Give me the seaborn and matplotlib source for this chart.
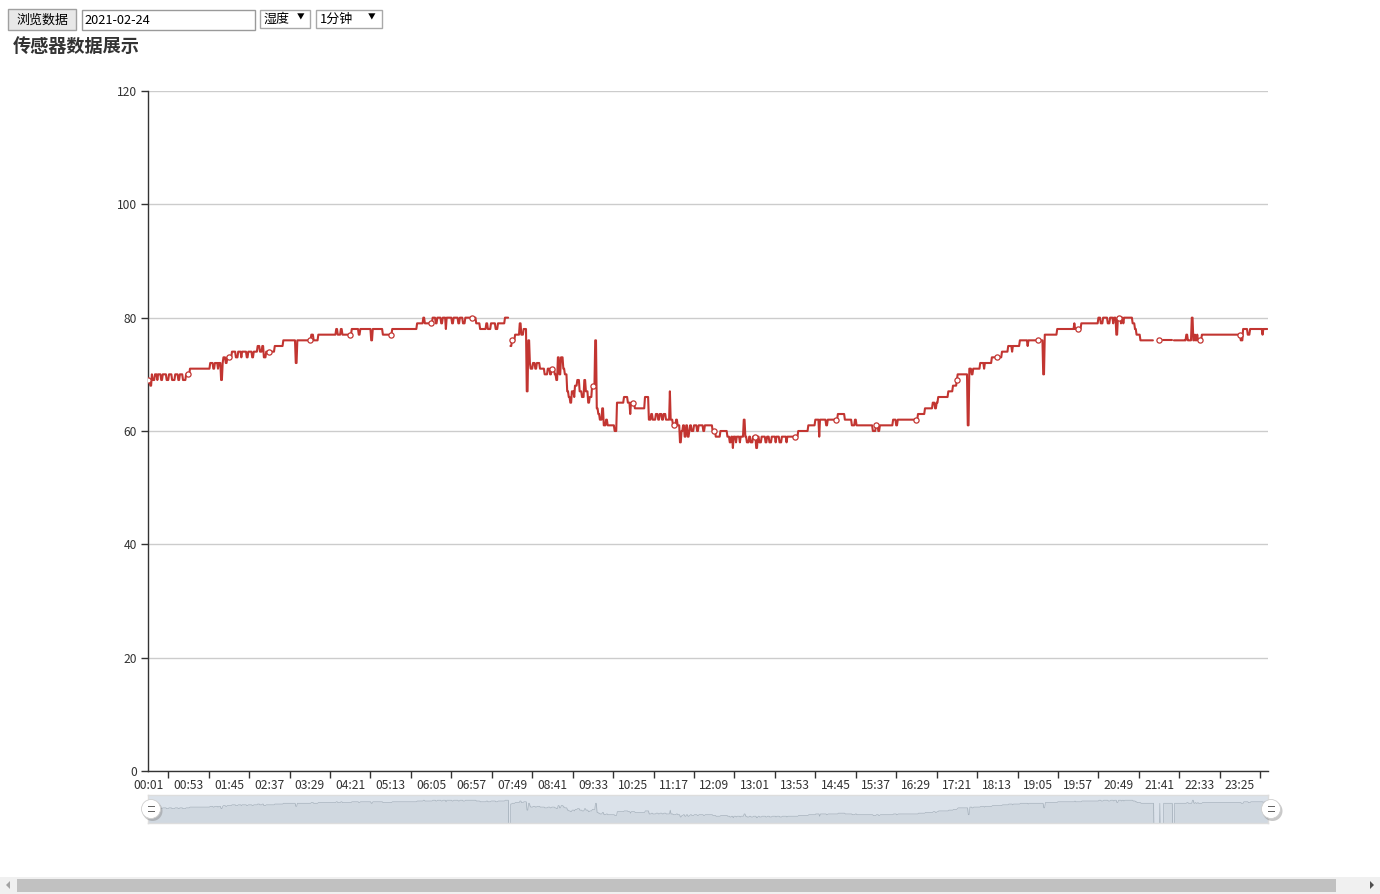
import numpy as np
import pandas as pd
import matplotlib
matplotlib.use("Agg")
import matplotlib.pyplot as plt
from matplotlib.patches import Rectangle, Circle, Polygon
from matplotlib.transforms import IdentityTransform
import seaborn as sns

# humidity readings (1 reading per minute), stored as change points:
# minute of day -> value held until the next change point, nan = no data
change_minute = [
    1, 4, 6, 7, 10, 13, 14, 18, 20, 25, 28, 32, 36, 40, 42, 46, 50, 55, 81, 85,
    87, 91, 92, 95, 97, 98, 101, 103, 109, 114, 117, 121, 122, 128, 130, 135, 137, 142, 145, 148,
    150, 153, 164, 175, 191, 193, 211, 214, 220, 243, 245, 249, 251, 263, 272, 274, 288, 290, 303, 315,
    347, 355, 357, 367, 371, 373, 378, 380, 384, 385, 392, 394, 400, 402, 406, 409, 423, 428, 436, 438,
    442, 448, 451, 460, 465, 467, 469, 473, 479, 481, 484, 488, 490, 492, 493, 496, 499, 501, 505, 511,
    515, 518, 520, 524, 526, 528, 530, 532, 535, 537, 540, 542, 544, 546, 549, 550, 553, 556, 559, 562,
    564, 567, 569, 572, 576, 578, 580, 582, 585, 587, 590, 592, 601, 604, 613, 618, 621, 622, 627, 640,
    645, 648, 650, 654, 657, 659, 662, 664, 667, 672, 673, 676, 680, 682, 685, 687, 689, 691, 693, 695,
    697, 698, 700, 703, 707, 709, 715, 717, 727, 731, 737, 746, 749, 751, 753, 754, 757, 758, 762, 763,
    767, 769, 771, 774, 776, 779, 783, 785, 787, 790, 795, 797, 800, 803, 808, 809, 813, 816, 822, 823,
    837, 850, 859, 864, 865, 873, 875, 888, 897, 906, 910, 912, 933, 937, 940, 942, 959, 963, 965, 991,
    1000, 1010, 1013, 1015, 1017, 1030, 1036, 1041, 1042, 1055, 1057, 1060, 1062, 1071, 1076, 1077, 1086, 1099, 1107, 1112,
    1113, 1122, 1132, 1133, 1152, 1154, 1170, 1192, 1193, 1201, 1223, 1226, 1229, 1235, 1238, 1242, 1243, 1246, 1248, 1252,
    1253, 1255, 1256, 1267, 1270, 1272, 1277, 1294, 1301, 1302, 1306, 1318, 1320, 1336, 1338, 1343, 1345, 1347, 1348, 1350,
    1351, 1356, 1406, 1409, 1415, 1418, 1434, 1435,
]
nan = np.nan
change_value = [
    69, 68, 70, 69, 70, 69, 70, 69, 70, 69, 70, 69, 70, 69, 70, 69, 70, 71, 72, 71,
    72, 71, 72, 69, 72, 73, 72, 73, 74, 73, 74, 73, 74, 73, 74, 73, 74, 75, 74, 75,
    73, 74, 75, 76, 72, 76, 77, 76, 77, 78, 77, 78, 77, 78, 77, 78, 76, 78, 77, 78,
    79, 80, 79, 80, 79, 80, 79, 80, 78, 80, 79, 80, 79, 80, 79, 80, 79, 78, 79, 78,
    79, 78, 79, 80, nan, 75, 76, 77, 79, 77, 78, 67, 76, 72, 71, 72, 71, 72, 71, 70,
    71, 70, 71, 70, 69, 73, 70, 73, 71, 70, 67, 66, 65, 67, 66, 68, 69, 67, 66, 69,
    67, 65, 66, 68, 76, 64, 63, 62, 64, 61, 62, 61, 60, 65, 66, 65, 63, 65, 64, 66,
    62, 63, 62, 63, 62, 63, 62, 63, 62, 67, 62, 61, 62, 61, 58, 60, 61, 59, 61, 59,
    60, 61, 60, 61, 60, 61, 60, 61, 60, 59, 60, 59, 58, 59, 57, 59, 58, 59, 58, 59,
    62, 59, 58, 59, 58, 59, 57, 59, 58, 59, 58, 59, 58, 59, 58, 59, 58, 59, 58, 59,
    60, 61, 62, 59, 62, 61, 62, 63, 62, 61, 62, 61, 60, 61, 60, 61, 62, 61, 62, 63,
    64, 65, 64, 65, 66, 67, 68, 69, 70, 61, 71, 70, 71, 72, 71, 72, 73, 74, 75, 74,
    75, 76, 75, 76, 70, 77, 78, 79, 78, 79, 80, 79, 80, 79, 80, 79, 80, 77, 80, 79,
    80, 79, 80, 79, 78, 77, 76, nan, 76, nan, 76, nan, 76, 77, 76, 80, 76, 77, 76, 77,
    76, 77, 76, 78, 77, 78, 77, 78,
]
total_minutes = 1440
label_step = 52

sns.set_style("white")
plt.rcParams["font.family"] = ["Noto Sans CJK SC", "DejaVu Sans"]

W, H = 1380, 894
fig = plt.figure(figsize=(W / 100, H / 100), dpi=100)
fig.patch.set_facecolor("white")
PX = IdentityTransform()


def box(x0, y0, x1, y1, **kw):
    fig.add_artist(Rectangle((x0, H - y1), x1 - x0, y1 - y0, transform=PX, **kw))


def label(x, y, s, size, **kw):
    fig.text(x / W, 1 - y / H, s, fontsize=size, va="center", **kw)


# per-minute series
steps = pd.Series(change_value, index=change_minute, dtype=float)
minutes = np.arange(1, total_minutes + 1)
humid = steps.reindex(minutes, method="ffill")
df = pd.DataFrame({"idx": minutes - 1, "value": humid.values})
df["seg"] = df["value"].isna().cumsum()
times = ["%02d:%02d" % (m // 60, m % 60) for m in minutes]

# main chart
ax = fig.add_axes([148 / W, 1 - 771 / H, 1120 / W, 680 / H])
sns.lineplot(data=df.dropna(), x="idx", y="value", units="seg", estimator=None,
             color="#c23531", lw=1.5, ax=ax, legend=False)
marks = df.iloc[::label_step].dropna()
sns.scatterplot(data=marks, x="idx", y="value", marker="o", s=14, color="white",
                edgecolor="#c23531", linewidth=0.9, zorder=4, ax=ax, legend=False)

ax.set_xlim(0, total_minutes)
ax.set_ylim(0, 120)
ax.set_yticks(range(0, 121, 20))
ax.yaxis.grid(True, color="#cccccc", lw=1)
ax.xaxis.grid(False)
ax.set_axisbelow(True)
lab_idx = list(range(0, total_minutes, label_step))
ax.set_xticks(lab_idx)
ax.set_xticklabels([times[i] for i in lab_idx])
ax.set_xticks([i + label_step // 2 for i in lab_idx], minor=True)
ax.tick_params(axis="x", which="major", bottom=True, length=0, pad=6,
               labelsize=8.7, labelcolor="#333333")
ax.tick_params(axis="x", which="minor", bottom=True, length=5, width=1, color="#333333")
ax.tick_params(axis="y", left=True, length=5, width=1, color="#333333", pad=3,
               labelsize=8.7, labelcolor="#333333")
ax.set_xlabel("")
ax.set_ylabel("")
sns.despine(ax=ax)
for side in ("left", "bottom"):
    ax.spines[side].set_color("#333333")
    ax.spines[side].set_linewidth(1)

# data zoom slider with data shadow
ax2 = fig.add_axes([148 / W, 1 - 823 / H, 1120 / W, 28 / H])
shadow = df["value"].fillna(0)
vmin, vmax = df["value"].min(), df["value"].max()
off = (vmax - vmin) * 0.3
ax2.set_xlim(0, total_minutes - 1)
ax2.set_ylim(vmin - off, vmax + off)
ax2.fill_between(df["idx"], shadow, -100, color=(47 / 255, 69 / 255, 84 / 255), alpha=0.09, lw=0)
ax2.plot(df["idx"], shadow, color="#2f4554", alpha=0.3, lw=0.5)
ax2.axvspan(0, total_minutes - 1, color=(167 / 255, 183 / 255, 203 / 255), alpha=0.4, lw=0)
ax2.set_xticks([])
ax2.set_yticks([])
for s in ax2.spines.values():
    s.set_color("#dddddd")
    s.set_linewidth(1)

for cx in (151, 1271):
    cy = H - 809
    fig.add_artist(Circle((cx + 1.5, cy - 2), 10, transform=PX, color="#888888", alpha=0.45, lw=0))
    fig.add_artist(Circle((cx, cy), 9.5, transform=PX, facecolor="white", edgecolor="#cfcfcf", lw=0.6))
    for dy in (-2.2, 2.2):
        fig.add_artist(Rectangle((cx - 3.5, cy + dy - 0.6), 7, 1.3, transform=PX, color="#666666", lw=0))

# page controls
box(8, 9, 76, 30, facecolor="#e8e8e8", edgecolor="#a0a0a0", lw=1)
label(16, 20, "浏览数据", 9.4, color="black")
box(82, 10, 255, 30, facecolor="white", edgecolor="#9a9a9a", lw=1)
label(84, 20, "2021-02-24", 9.2, color="black")
box(260, 10, 310, 28, facecolor="white", edgecolor="#a9a9a9", lw=1)
label(264, 19.5, "湿度", 9.4, color="black")
label(297, 18, "▼", 5.5, color="black")
box(316, 10, 382, 28, facecolor="white", edgecolor="#a9a9a9", lw=1)
label(320, 19.5, "1分钟", 9.4, color="black")
label(368, 18, "▼", 5.5, color="black")
label(13, 46, "传感器数据展示", 13.1, color="#333333", fontweight="bold")

# browser scrollbar
box(0, 877, W, H, facecolor="#f0f0f0", lw=0)
box(17, 879, 1336, 892, facecolor="#c1c1c1", lw=0)
fig.add_artist(Polygon([(6, H - 885), (10, H - 881), (10, H - 889)], transform=PX, color="#a3a3a3", lw=0))
fig.add_artist(Polygon([(1374, H - 885), (1370, H - 881), (1370, H - 889)], transform=PX, color="#505050", lw=0))

fig.savefig("out.png", dpi=100, facecolor="white")
